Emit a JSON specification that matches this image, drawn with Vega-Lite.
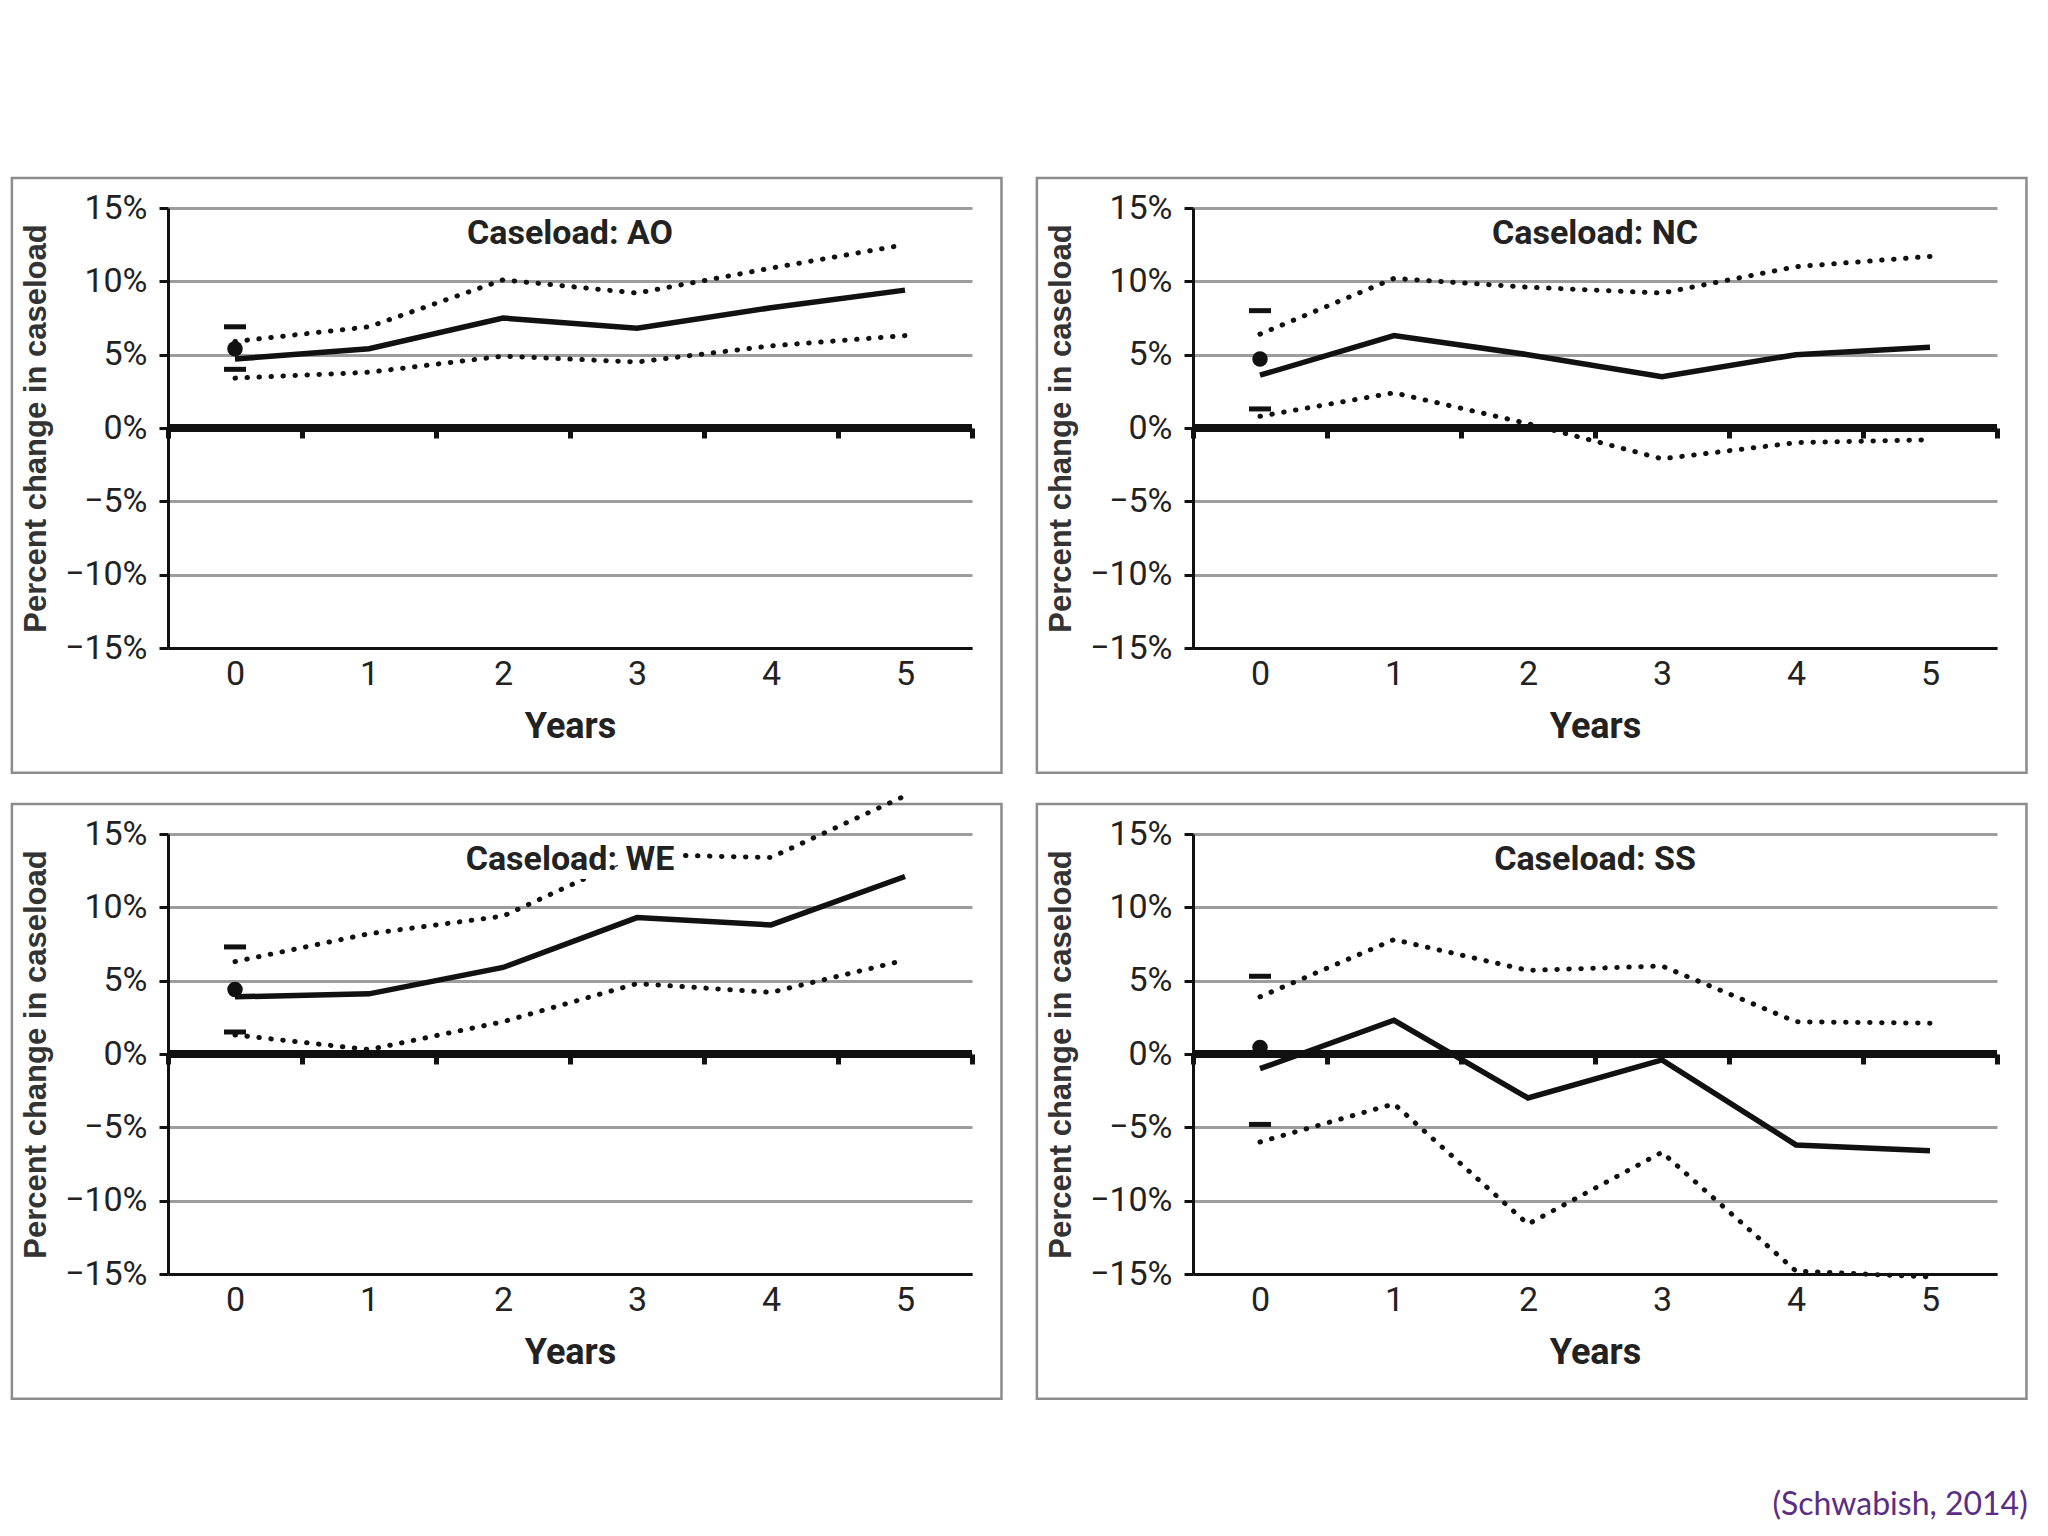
{
  "$schema": "https://vega.github.io/schema/vega-lite/v6.json",
  "background": "white",
  "padding": {"left": 10, "top": 176, "right": 10, "bottom": 10},
  "title": {"text": "(Schwabish, 2014)", "orient": "bottom", "anchor": "end", "font": "Lato", "fontSize": 32, "fontWeight": "normal", "color": "#5b2d84", "offset": 90},
  "datasets": {
    "d": [
      {"panel": "AO", "series": "est", "year": 0, "value": 0.047},
      {"panel": "AO", "series": "est", "year": 1, "value": 0.054},
      {"panel": "AO", "series": "est", "year": 2, "value": 0.075},
      {"panel": "AO", "series": "est", "year": 3, "value": 0.068},
      {"panel": "AO", "series": "est", "year": 4, "value": 0.082},
      {"panel": "AO", "series": "est", "year": 5, "value": 0.094},
      {"panel": "AO", "series": "upper", "year": 0, "value": 0.059},
      {"panel": "AO", "series": "upper", "year": 1, "value": 0.069},
      {"panel": "AO", "series": "upper", "year": 2, "value": 0.101},
      {"panel": "AO", "series": "upper", "year": 3, "value": 0.092},
      {"panel": "AO", "series": "upper", "year": 4, "value": 0.109},
      {"panel": "AO", "series": "upper", "year": 5, "value": 0.125},
      {"panel": "AO", "series": "lower", "year": 0, "value": 0.034},
      {"panel": "AO", "series": "lower", "year": 1, "value": 0.038},
      {"panel": "AO", "series": "lower", "year": 2, "value": 0.049},
      {"panel": "AO", "series": "lower", "year": 3, "value": 0.045},
      {"panel": "AO", "series": "lower", "year": 4, "value": 0.056},
      {"panel": "AO", "series": "lower", "year": 5, "value": 0.063},
      {"panel": "AO", "series": "point", "year": 0, "value": 0.054},
      {"panel": "AO", "series": "capHi", "year": 0, "value": 0.069},
      {"panel": "AO", "series": "capLo", "year": 0, "value": 0.040},

      {"panel": "NC", "series": "est", "year": 0, "value": 0.036},
      {"panel": "NC", "series": "est", "year": 1, "value": 0.063},
      {"panel": "NC", "series": "est", "year": 2, "value": 0.050},
      {"panel": "NC", "series": "est", "year": 3, "value": 0.035},
      {"panel": "NC", "series": "est", "year": 4, "value": 0.050},
      {"panel": "NC", "series": "est", "year": 5, "value": 0.055},
      {"panel": "NC", "series": "upper", "year": 0, "value": 0.064},
      {"panel": "NC", "series": "upper", "year": 1, "value": 0.102},
      {"panel": "NC", "series": "upper", "year": 2, "value": 0.096},
      {"panel": "NC", "series": "upper", "year": 3, "value": 0.092},
      {"panel": "NC", "series": "upper", "year": 4, "value": 0.110},
      {"panel": "NC", "series": "upper", "year": 5, "value": 0.117},
      {"panel": "NC", "series": "lower", "year": 0, "value": 0.008},
      {"panel": "NC", "series": "lower", "year": 1, "value": 0.024},
      {"panel": "NC", "series": "lower", "year": 2, "value": 0.003},
      {"panel": "NC", "series": "lower", "year": 3, "value": -0.021},
      {"panel": "NC", "series": "lower", "year": 4, "value": -0.010},
      {"panel": "NC", "series": "lower", "year": 5, "value": -0.008},
      {"panel": "NC", "series": "point", "year": 0, "value": 0.047},
      {"panel": "NC", "series": "capHi", "year": 0, "value": 0.080},
      {"panel": "NC", "series": "capLo", "year": 0, "value": 0.013},

      {"panel": "WE", "series": "est", "year": 0, "value": 0.039},
      {"panel": "WE", "series": "est", "year": 1, "value": 0.041},
      {"panel": "WE", "series": "est", "year": 2, "value": 0.059},
      {"panel": "WE", "series": "est", "year": 3, "value": 0.093},
      {"panel": "WE", "series": "est", "year": 4, "value": 0.088},
      {"panel": "WE", "series": "est", "year": 5, "value": 0.121},
      {"panel": "WE", "series": "upper", "year": 0, "value": 0.063},
      {"panel": "WE", "series": "upper", "year": 1, "value": 0.082},
      {"panel": "WE", "series": "upper", "year": 2, "value": 0.094},
      {"panel": "WE", "series": "upper", "year": 3, "value": 0.136},
      {"panel": "WE", "series": "upper", "year": 4, "value": 0.134},
      {"panel": "WE", "series": "upper", "year": 5, "value": 0.176},
      {"panel": "WE", "series": "lower", "year": 0, "value": 0.013},
      {"panel": "WE", "series": "lower", "year": 1, "value": 0.003},
      {"panel": "WE", "series": "lower", "year": 2, "value": 0.022},
      {"panel": "WE", "series": "lower", "year": 3, "value": 0.048},
      {"panel": "WE", "series": "lower", "year": 4, "value": 0.042},
      {"panel": "WE", "series": "lower", "year": 5, "value": 0.064},
      {"panel": "WE", "series": "point", "year": 0, "value": 0.044},
      {"panel": "WE", "series": "capHi", "year": 0, "value": 0.073},
      {"panel": "WE", "series": "capLo", "year": 0, "value": 0.015},

      {"panel": "SS", "series": "est", "year": 0, "value": -0.010},
      {"panel": "SS", "series": "est", "year": 1, "value": 0.023},
      {"panel": "SS", "series": "est", "year": 2, "value": -0.030},
      {"panel": "SS", "series": "est", "year": 3, "value": -0.004},
      {"panel": "SS", "series": "est", "year": 4, "value": -0.062},
      {"panel": "SS", "series": "est", "year": 5, "value": -0.066},
      {"panel": "SS", "series": "upper", "year": 0, "value": 0.039},
      {"panel": "SS", "series": "upper", "year": 1, "value": 0.078},
      {"panel": "SS", "series": "upper", "year": 2, "value": 0.057},
      {"panel": "SS", "series": "upper", "year": 3, "value": 0.060},
      {"panel": "SS", "series": "upper", "year": 4, "value": 0.022},
      {"panel": "SS", "series": "upper", "year": 5, "value": 0.021},
      {"panel": "SS", "series": "lower", "year": 0, "value": -0.060},
      {"panel": "SS", "series": "lower", "year": 1, "value": -0.034},
      {"panel": "SS", "series": "lower", "year": 2, "value": -0.116},
      {"panel": "SS", "series": "lower", "year": 3, "value": -0.067},
      {"panel": "SS", "series": "lower", "year": 4, "value": -0.148},
      {"panel": "SS", "series": "lower", "year": 5, "value": -0.152},
      {"panel": "SS", "series": "point", "year": 0, "value": 0.0045},
      {"panel": "SS", "series": "capHi", "year": 0, "value": 0.053},
      {"panel": "SS", "series": "capLo", "year": 0, "value": -0.048}
    ]
  },
  "data": {"name": "d"},
  "columns": 2,
  "spacing": {"row": 186, "column": 221},
  "bounds": "flush",
  "concat": [
    {
      "width": 804, "height": 440,
      "transform": [{"filter": "datum.panel === 'AO'"}],
      "resolve": {"scale": {"x": "independent"}},
      "layer": [
        {"transform": [{"filter": "datum.series === 'point'"}], "mark": {"type": "rect", "filled": false, "stroke": "#8c8c8c", "strokeWidth": 2.5},
         "encoding": {"x": {"datum": -1.665, "type": "quantitative", "scale": {"domain": [-0.5, 5.5], "nice": false, "zero": false}, "axis": null}, "x2": {"datum": 5.72}, "y": {"datum": 0.1705, "type": "quantitative", "scale": {"domain": [-0.15, 0.15], "nice": false, "zero": false}}, "y2": {"datum": -0.235}}},
        {"transform": [{"filter": "datum.series === 'point'"}], "mark": {"type": "rule", "color": "#111", "strokeWidth": 8},
         "encoding": {"x": {"datum": -0.5, "type": "quantitative", "scale": {"domain": [-0.5, 5.5], "nice": false, "zero": false}, "axis": {"orient": "bottom", "offset": -220, "values": [-0.5, 0.5, 1.5, 2.5, 3.5, 4.5, 5.5], "labels": false, "domain": false, "grid": false, "ticks": true, "tickSize": 10, "tickWidth": 5, "tickColor": "#111", "title": null, "zindex": 1}}, "x2": {"datum": 5.5}, "y": {"datum": 0, "type": "quantitative"}}},
        {"transform": [{"filter": "datum.series === 'upper' || datum.series === 'lower'"}], "mark": {"type": "line", "color": "#111", "strokeWidth": 5, "strokeDash": [0.5, 11.5], "strokeCap": "round"},
         "encoding": {"x": {"field": "year", "type": "quantitative", "scale": {"domain": [-0.5, 5.5], "nice": false, "zero": false}, "axis": null}, "y": {"field": "value", "type": "quantitative", "title": "Percent change in caseload"}, "detail": {"field": "series"}}},
        {"transform": [{"filter": "datum.series === 'est'"}], "mark": {"type": "line", "color": "#111", "strokeWidth": 5.5},
         "encoding": {"x": {"field": "year", "type": "quantitative", "scale": {"domain": [-0.5, 5.5], "nice": false, "zero": false}, "axis": {"orient": "bottom", "values": [0, 1, 2, 3, 4, 5], "format": "d", "title": "Years"}}, "y": {"field": "value", "type": "quantitative", "title": "Percent change in caseload", "axis": {"values": [-0.15, -0.1, -0.05, 0, 0.05, 0.1, 0.15], "format": ".0%"}}}},
        {"transform": [{"filter": "datum.series === 'point'"}], "mark": {"type": "circle", "size": 240, "color": "#111", "opacity": 1},
         "encoding": {"x": {"field": "year", "type": "quantitative", "scale": {"domain": [-0.5, 5.5], "nice": false, "zero": false}, "axis": null}, "y": {"field": "value", "type": "quantitative", "title": "Percent change in caseload"}}},
        {"transform": [{"filter": "datum.series === 'capHi' || datum.series === 'capLo'"}], "mark": {"type": "tick", "orient": "horizontal", "size": 22, "thickness": 5, "color": "#111", "opacity": 1},
         "encoding": {"x": {"field": "year", "type": "quantitative", "scale": {"domain": [-0.5, 5.5], "nice": false, "zero": false}, "axis": null}, "y": {"field": "value", "type": "quantitative", "title": "Percent change in caseload"}}},
        {"transform": [{"filter": "datum.series === 'point'"}], "mark": {"type": "text", "text": "Caseload: AO", "font": "Roboto", "fontSize": 34, "fontWeight": "bold", "fill": "white", "stroke": "white", "strokeWidth": 18, "strokeJoin": "round"},
         "encoding": {"x": {"datum": 2.5, "type": "quantitative", "scale": {"domain": [-0.5, 5.5], "nice": false, "zero": false}, "axis": null}, "y": {"datum": 0.132, "type": "quantitative"}}},
        {"transform": [{"filter": "datum.series === 'point'"}], "mark": {"type": "text", "text": "Caseload: AO", "font": "Roboto", "fontSize": 34, "fontWeight": "bold", "color": "#222"},
         "encoding": {"x": {"datum": 2.5, "type": "quantitative", "scale": {"domain": [-0.5, 5.5], "nice": false, "zero": false}, "axis": null}, "y": {"datum": 0.132, "type": "quantitative"}}}
      ]
    },
    {
      "width": 804, "height": 440,
      "transform": [{"filter": "datum.panel === 'NC'"}],
      "resolve": {"scale": {"x": "independent"}},
      "layer": [
        {"transform": [{"filter": "datum.series === 'point'"}], "mark": {"type": "rect", "filled": false, "stroke": "#8c8c8c", "strokeWidth": 2.5},
         "encoding": {"x": {"datum": -1.665, "type": "quantitative", "scale": {"domain": [-0.5, 5.5], "nice": false, "zero": false}, "axis": null}, "x2": {"datum": 5.72}, "y": {"datum": 0.1705, "type": "quantitative", "scale": {"domain": [-0.15, 0.15], "nice": false, "zero": false}}, "y2": {"datum": -0.235}}},
        {"transform": [{"filter": "datum.series === 'point'"}], "mark": {"type": "rule", "color": "#111", "strokeWidth": 8},
         "encoding": {"x": {"datum": -0.5, "type": "quantitative", "scale": {"domain": [-0.5, 5.5], "nice": false, "zero": false}, "axis": {"orient": "bottom", "offset": -220, "values": [-0.5, 0.5, 1.5, 2.5, 3.5, 4.5, 5.5], "labels": false, "domain": false, "grid": false, "ticks": true, "tickSize": 10, "tickWidth": 5, "tickColor": "#111", "title": null, "zindex": 1}}, "x2": {"datum": 5.5}, "y": {"datum": 0, "type": "quantitative"}}},
        {"transform": [{"filter": "datum.series === 'upper' || datum.series === 'lower'"}], "mark": {"type": "line", "color": "#111", "strokeWidth": 5, "strokeDash": [0.5, 11.5], "strokeCap": "round"},
         "encoding": {"x": {"field": "year", "type": "quantitative", "scale": {"domain": [-0.5, 5.5], "nice": false, "zero": false}, "axis": null}, "y": {"field": "value", "type": "quantitative", "title": "Percent change in caseload"}, "detail": {"field": "series"}}},
        {"transform": [{"filter": "datum.series === 'est'"}], "mark": {"type": "line", "color": "#111", "strokeWidth": 5.5},
         "encoding": {"x": {"field": "year", "type": "quantitative", "scale": {"domain": [-0.5, 5.5], "nice": false, "zero": false}, "axis": {"orient": "bottom", "values": [0, 1, 2, 3, 4, 5], "format": "d", "title": "Years"}}, "y": {"field": "value", "type": "quantitative", "title": "Percent change in caseload", "axis": {"values": [-0.15, -0.1, -0.05, 0, 0.05, 0.1, 0.15], "format": ".0%"}}}},
        {"transform": [{"filter": "datum.series === 'point'"}], "mark": {"type": "circle", "size": 240, "color": "#111", "opacity": 1},
         "encoding": {"x": {"field": "year", "type": "quantitative", "scale": {"domain": [-0.5, 5.5], "nice": false, "zero": false}, "axis": null}, "y": {"field": "value", "type": "quantitative", "title": "Percent change in caseload"}}},
        {"transform": [{"filter": "datum.series === 'capHi' || datum.series === 'capLo'"}], "mark": {"type": "tick", "orient": "horizontal", "size": 22, "thickness": 5, "color": "#111", "opacity": 1},
         "encoding": {"x": {"field": "year", "type": "quantitative", "scale": {"domain": [-0.5, 5.5], "nice": false, "zero": false}, "axis": null}, "y": {"field": "value", "type": "quantitative", "title": "Percent change in caseload"}}},
        {"transform": [{"filter": "datum.series === 'point'"}], "mark": {"type": "text", "text": "Caseload: NC", "font": "Roboto", "fontSize": 34, "fontWeight": "bold", "fill": "white", "stroke": "white", "strokeWidth": 18, "strokeJoin": "round"},
         "encoding": {"x": {"datum": 2.5, "type": "quantitative", "scale": {"domain": [-0.5, 5.5], "nice": false, "zero": false}, "axis": null}, "y": {"datum": 0.132, "type": "quantitative"}}},
        {"transform": [{"filter": "datum.series === 'point'"}], "mark": {"type": "text", "text": "Caseload: NC", "font": "Roboto", "fontSize": 34, "fontWeight": "bold", "color": "#222"},
         "encoding": {"x": {"datum": 2.5, "type": "quantitative", "scale": {"domain": [-0.5, 5.5], "nice": false, "zero": false}, "axis": null}, "y": {"datum": 0.132, "type": "quantitative"}}}
      ]
    },
    {
      "width": 804, "height": 440,
      "transform": [{"filter": "datum.panel === 'WE'"}],
      "resolve": {"scale": {"x": "independent"}},
      "layer": [
        {"transform": [{"filter": "datum.series === 'point'"}], "mark": {"type": "rect", "filled": false, "stroke": "#8c8c8c", "strokeWidth": 2.5},
         "encoding": {"x": {"datum": -1.665, "type": "quantitative", "scale": {"domain": [-0.5, 5.5], "nice": false, "zero": false}, "axis": null}, "x2": {"datum": 5.72}, "y": {"datum": 0.1705, "type": "quantitative", "scale": {"domain": [-0.15, 0.15], "nice": false, "zero": false}}, "y2": {"datum": -0.235}}},
        {"transform": [{"filter": "datum.series === 'point'"}], "mark": {"type": "rule", "color": "#111", "strokeWidth": 8},
         "encoding": {"x": {"datum": -0.5, "type": "quantitative", "scale": {"domain": [-0.5, 5.5], "nice": false, "zero": false}, "axis": {"orient": "bottom", "offset": -220, "values": [-0.5, 0.5, 1.5, 2.5, 3.5, 4.5, 5.5], "labels": false, "domain": false, "grid": false, "ticks": true, "tickSize": 10, "tickWidth": 5, "tickColor": "#111", "title": null, "zindex": 1}}, "x2": {"datum": 5.5}, "y": {"datum": 0, "type": "quantitative"}}},
        {"transform": [{"filter": "datum.series === 'upper' || datum.series === 'lower'"}], "mark": {"type": "line", "color": "#111", "strokeWidth": 5, "strokeDash": [0.5, 11.5], "strokeCap": "round"},
         "encoding": {"x": {"field": "year", "type": "quantitative", "scale": {"domain": [-0.5, 5.5], "nice": false, "zero": false}, "axis": null}, "y": {"field": "value", "type": "quantitative", "title": "Percent change in caseload"}, "detail": {"field": "series"}}},
        {"transform": [{"filter": "datum.series === 'est'"}], "mark": {"type": "line", "color": "#111", "strokeWidth": 5.5},
         "encoding": {"x": {"field": "year", "type": "quantitative", "scale": {"domain": [-0.5, 5.5], "nice": false, "zero": false}, "axis": {"orient": "bottom", "values": [0, 1, 2, 3, 4, 5], "format": "d", "title": "Years"}}, "y": {"field": "value", "type": "quantitative", "title": "Percent change in caseload", "axis": {"values": [-0.15, -0.1, -0.05, 0, 0.05, 0.1, 0.15], "format": ".0%"}}}},
        {"transform": [{"filter": "datum.series === 'point'"}], "mark": {"type": "circle", "size": 240, "color": "#111", "opacity": 1},
         "encoding": {"x": {"field": "year", "type": "quantitative", "scale": {"domain": [-0.5, 5.5], "nice": false, "zero": false}, "axis": null}, "y": {"field": "value", "type": "quantitative", "title": "Percent change in caseload"}}},
        {"transform": [{"filter": "datum.series === 'capHi' || datum.series === 'capLo'"}], "mark": {"type": "tick", "orient": "horizontal", "size": 22, "thickness": 5, "color": "#111", "opacity": 1},
         "encoding": {"x": {"field": "year", "type": "quantitative", "scale": {"domain": [-0.5, 5.5], "nice": false, "zero": false}, "axis": null}, "y": {"field": "value", "type": "quantitative", "title": "Percent change in caseload"}}},
        {"transform": [{"filter": "datum.series === 'point'"}], "mark": {"type": "text", "text": "Caseload: WE", "font": "Roboto", "fontSize": 34, "fontWeight": "bold", "fill": "white", "stroke": "white", "strokeWidth": 18, "strokeJoin": "round"},
         "encoding": {"x": {"datum": 2.5, "type": "quantitative", "scale": {"domain": [-0.5, 5.5], "nice": false, "zero": false}, "axis": null}, "y": {"datum": 0.132, "type": "quantitative"}}},
        {"transform": [{"filter": "datum.series === 'point'"}], "mark": {"type": "text", "text": "Caseload: WE", "font": "Roboto", "fontSize": 34, "fontWeight": "bold", "color": "#222"},
         "encoding": {"x": {"datum": 2.5, "type": "quantitative", "scale": {"domain": [-0.5, 5.5], "nice": false, "zero": false}, "axis": null}, "y": {"datum": 0.132, "type": "quantitative"}}}
      ]
    },
    {
      "width": 804, "height": 440,
      "transform": [{"filter": "datum.panel === 'SS'"}],
      "resolve": {"scale": {"x": "independent"}},
      "layer": [
        {"transform": [{"filter": "datum.series === 'point'"}], "mark": {"type": "rect", "filled": false, "stroke": "#8c8c8c", "strokeWidth": 2.5},
         "encoding": {"x": {"datum": -1.665, "type": "quantitative", "scale": {"domain": [-0.5, 5.5], "nice": false, "zero": false}, "axis": null}, "x2": {"datum": 5.72}, "y": {"datum": 0.1705, "type": "quantitative", "scale": {"domain": [-0.15, 0.15], "nice": false, "zero": false}}, "y2": {"datum": -0.235}}},
        {"transform": [{"filter": "datum.series === 'point'"}], "mark": {"type": "rule", "color": "#111", "strokeWidth": 8},
         "encoding": {"x": {"datum": -0.5, "type": "quantitative", "scale": {"domain": [-0.5, 5.5], "nice": false, "zero": false}, "axis": {"orient": "bottom", "offset": -220, "values": [-0.5, 0.5, 1.5, 2.5, 3.5, 4.5, 5.5], "labels": false, "domain": false, "grid": false, "ticks": true, "tickSize": 10, "tickWidth": 5, "tickColor": "#111", "title": null, "zindex": 1}}, "x2": {"datum": 5.5}, "y": {"datum": 0, "type": "quantitative"}}},
        {"transform": [{"filter": "datum.series === 'upper' || datum.series === 'lower'"}], "mark": {"type": "line", "color": "#111", "strokeWidth": 5, "strokeDash": [0.5, 11.5], "strokeCap": "round"},
         "encoding": {"x": {"field": "year", "type": "quantitative", "scale": {"domain": [-0.5, 5.5], "nice": false, "zero": false}, "axis": null}, "y": {"field": "value", "type": "quantitative", "title": "Percent change in caseload"}, "detail": {"field": "series"}}},
        {"transform": [{"filter": "datum.series === 'est'"}], "mark": {"type": "line", "color": "#111", "strokeWidth": 5.5},
         "encoding": {"x": {"field": "year", "type": "quantitative", "scale": {"domain": [-0.5, 5.5], "nice": false, "zero": false}, "axis": {"orient": "bottom", "values": [0, 1, 2, 3, 4, 5], "format": "d", "title": "Years"}}, "y": {"field": "value", "type": "quantitative", "title": "Percent change in caseload", "axis": {"values": [-0.15, -0.1, -0.05, 0, 0.05, 0.1, 0.15], "format": ".0%"}}}},
        {"transform": [{"filter": "datum.series === 'point'"}], "mark": {"type": "circle", "size": 240, "color": "#111", "opacity": 1},
         "encoding": {"x": {"field": "year", "type": "quantitative", "scale": {"domain": [-0.5, 5.5], "nice": false, "zero": false}, "axis": null}, "y": {"field": "value", "type": "quantitative", "title": "Percent change in caseload"}}},
        {"transform": [{"filter": "datum.series === 'capHi' || datum.series === 'capLo'"}], "mark": {"type": "tick", "orient": "horizontal", "size": 22, "thickness": 5, "color": "#111", "opacity": 1},
         "encoding": {"x": {"field": "year", "type": "quantitative", "scale": {"domain": [-0.5, 5.5], "nice": false, "zero": false}, "axis": null}, "y": {"field": "value", "type": "quantitative", "title": "Percent change in caseload"}}},
        {"transform": [{"filter": "datum.series === 'point'"}], "mark": {"type": "text", "text": "Caseload: SS", "font": "Roboto", "fontSize": 34, "fontWeight": "bold", "fill": "white", "stroke": "white", "strokeWidth": 18, "strokeJoin": "round"},
         "encoding": {"x": {"datum": 2.5, "type": "quantitative", "scale": {"domain": [-0.5, 5.5], "nice": false, "zero": false}, "axis": null}, "y": {"datum": 0.132, "type": "quantitative"}}},
        {"transform": [{"filter": "datum.series === 'point'"}], "mark": {"type": "text", "text": "Caseload: SS", "font": "Roboto", "fontSize": 34, "fontWeight": "bold", "color": "#222"},
         "encoding": {"x": {"datum": 2.5, "type": "quantitative", "scale": {"domain": [-0.5, 5.5], "nice": false, "zero": false}, "axis": null}, "y": {"datum": 0.132, "type": "quantitative"}}}
      ]
    }
  ],
  "config": {
    "view": {"stroke": null},
    "axisX": {"grid": false, "ticks": false, "domain": true, "domainColor": "#111", "domainWidth": 3, "labelFont": "Roboto", "labelFontSize": 34, "labelColor": "#222", "labelPadding": 9, "titleFont": "Roboto", "titleFontSize": 36, "titleFontWeight": "bold", "titleColor": "#222", "titlePadding": 18},
    "axisY": {"grid": true, "gridColor": "#9d9d9d", "gridWidth": 3, "domainColor": "#111", "domainWidth": 3, "tickColor": "#111", "tickSize": 9, "tickWidth": 3, "labelFont": "Roboto", "labelFontSize": 34, "labelColor": "#222", "labelPadding": 12, "titleFont": "Liberation Sans", "titleFontSize": 31, "titleFontWeight": "bold", "titleColor": "#333", "titlePadding": 12}
  }
}
